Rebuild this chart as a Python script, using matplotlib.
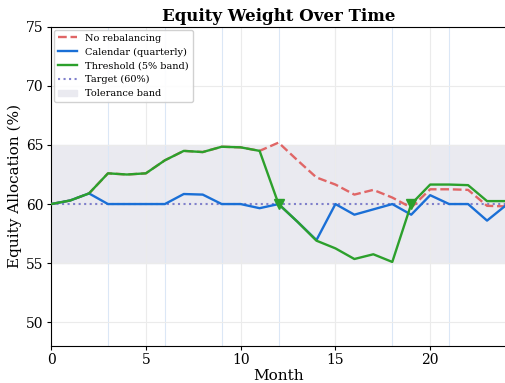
import matplotlib
matplotlib.use("Agg")
import matplotlib.pyplot as plt
import numpy as np

months = list(range(25))
no_rebal = [60.0, 60.3, 60.9, 62.6, 62.5, 62.6, 63.7, 64.5, 64.4, 64.85, 64.8, 64.5,
            65.2, 63.7, 62.25, 61.65, 60.8, 61.2, 60.55, 59.7, 61.25, 61.25, 61.2, 59.85, 59.8]
calendar = [60.0, 60.3, 60.9, 60.0, 60.0, 60.0, 60.0, 60.85, 60.8, 60.0, 60.0, 59.65,
            60.0, 58.5, 56.95, 60.0, 59.1, 59.55, 60.0, 59.1, 60.75, 60.0, 60.0, 58.6, 59.9]
threshold = [60.0, 60.3, 60.9, 62.6, 62.5, 62.6, 63.7, 64.5, 64.4, 64.85, 64.8, 64.5,
             60.0, 58.5, 56.9, 56.25, 55.35, 55.75, 55.1, 60.0, 61.65, 61.65, 61.6, 60.25, 60.25]
rebal_months = [12, 19]
calendar_months = [3, 6, 9, 12, 15, 18, 21]
target = 60
band = (55, 65)

plt.rcParams['font.family'] = 'DejaVu Serif'
fig = plt.figure(figsize=(5.06, 3.83), dpi=100)
ax = fig.add_axes([0.101, 0.097, 0.899, 0.833])

ax.axhspan(band[0], band[1], color='#eaeaf0', zorder=0, label='Tolerance band')
ax.grid(True, color='#ebebeb', linewidth=0.8, zorder=0.5)
for m in calendar_months:
    ax.axvline(m, color='#dbe7f6', linewidth=0.8, zorder=0.6)

ax.plot(months, no_rebal, color='#e06666', linestyle='--', linewidth=1.7, label='No rebalancing', zorder=3)
ax.plot(months, calendar, color='#1a6fd6', linewidth=1.7, label='Calendar (quarterly)', zorder=4)
ax.plot(months, threshold, color='#2ca02c', linewidth=1.7, label='Threshold (5% band)', zorder=5)
ax.plot(rebal_months, [threshold[m] for m in rebal_months], linestyle='none', marker='v',
        color='#2ca02c', markersize=7, zorder=6)
ax.axhline(target, color='#8080cc', linestyle=':', linewidth=1.5, label='Target (60%)', zorder=2)

ax.set_xlim(0, 24)
ax.set_ylim(48, 75)
ax.set_xticks([0, 5, 10, 15, 20])
ax.set_yticks([50, 55, 60, 65, 70, 75])
ax.tick_params(labelsize=10, length=3, pad=2.5)
ax.set_xlabel('Month', fontsize=11, labelpad=1)
ax.set_ylabel('Equity Allocation (%)', fontsize=11, labelpad=3)
ax.set_title('Equity Weight Over Time', fontsize=12, fontweight='bold', pad=4)

h, l = ax.get_legend_handles_labels()
order = ['No rebalancing', 'Calendar (quarterly)', 'Threshold (5% band)', 'Target (60%)', 'Tolerance band']
hd = dict(zip(l, h))
ax.legend([hd[k] for k in order], order, loc='upper left', fontsize=7, framealpha=0.9,
          borderaxespad=0.3)

fig.savefig('out.png', dpi=100)
